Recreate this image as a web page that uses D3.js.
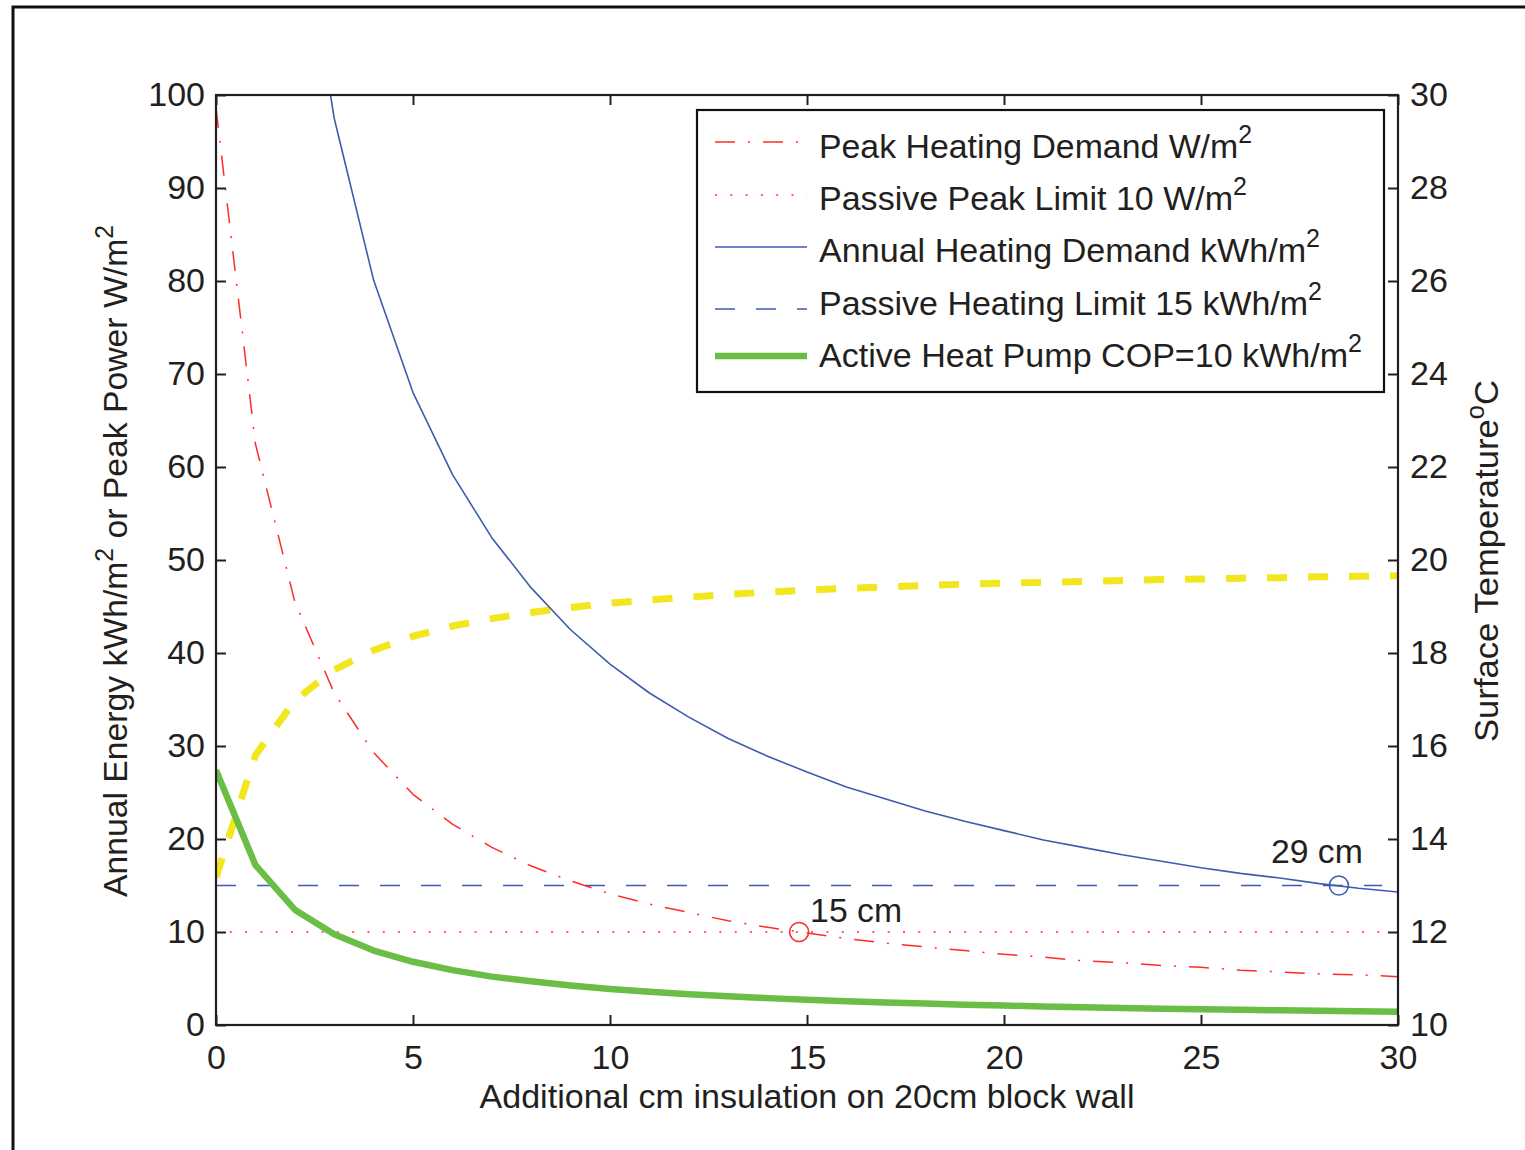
<!DOCTYPE html>
<html>
<head>
<meta charset="utf-8">
<script src="https://cdn.jsdelivr.net/npm/d3@7"></script>
<style>
  html, body { margin: 0; padding: 0; background: #fff; }
  svg text { font-family: "Liberation Sans", Arial, Helvetica, sans-serif; fill: #231f20; }
</style>
</head>
<body>
<svg id="chart" width="1525" height="1150"></svg>
<script>
// ---------------- data ----------------
const insulationCm = d3.range(0, 31); // 0..30 cm
const annualHeating = [277, 171.5, 124.2, 97.5, 80.1, 68.0, 59.2, 52.4, 47.0, 42.5,
  38.8, 35.7, 33.1, 30.8, 28.9, 27.2, 25.6, 24.3, 23.0, 21.9,
  20.9, 19.9, 19.1, 18.3, 17.6, 16.9, 16.3, 15.8, 15.2, 14.7, 14.3];
const peakHeating = [98.6, 62.5, 45.5, 35.7, 29.3, 24.8, 21.6, 19.1, 17.1, 15.5,
  14.1, 13.0, 12.1, 11.2, 10.5, 9.9, 9.3, 8.8, 8.4, 8.0,
  7.6, 7.3, 6.9, 6.7, 6.4, 6.2, 5.9, 5.7, 5.5, 5.4, 5.2];
const heatPump = [27.4, 17.2, 12.4, 9.75, 8.0, 6.8, 5.9, 5.2, 4.7, 4.25,
  3.88, 3.57, 3.31, 3.08, 2.89, 2.72, 2.56, 2.43, 2.30, 2.19,
  2.09, 1.99, 1.91, 1.83, 1.76, 1.69, 1.63, 1.58, 1.52, 1.47, 1.43];
const surfaceTemp = [13.18, 15.8, 16.98, 17.64, 18.06, 18.36, 18.58, 18.74, 18.87, 18.98,
  19.07, 19.14, 19.2, 19.26, 19.31, 19.35, 19.39, 19.42, 19.45, 19.48,
  19.5, 19.52, 19.54, 19.56, 19.58, 19.59, 19.61, 19.62, 19.64, 19.65, 19.66];
const passivePeakLimit = 10;      // W/m2
const passiveHeatingLimit = 15;   // kWh/m2
const limitRange = [0, 29.6];
const markers = [
  {x: 14.8, y: 10, label: "15 cm", color: "#ff2b2b"},
  {x: 28.5, y: 15, label: "29 cm", color: "#3d5cb0"}
];
const xTicks = [0, 5, 10, 15, 20, 25, 30];
const yLeftTicks = [0, 10, 20, 30, 40, 50, 60, 70, 80, 90, 100];
const yRightTicks = [10, 12, 14, 16, 18, 20, 22, 24, 26, 28, 30];
const legendItems = [
  {label: "Peak Heating Demand W/m", key: "peak"},
  {label: "Passive Peak Limit 10 W/m", key: "peakLimit"},
  {label: "Annual Heating Demand kWh/m", key: "annual"},
  {label: "Passive Heating Limit 15 kWh/m", key: "annualLimit"},
  {label: "Active Heat Pump COP=10 kWh/m", key: "pump"}
];

// ---------------- styles ----------------
const styles = {
  peak:        {stroke: "#ff2b2b", width: 1.5, dash: "20,13,2,13"},
  peakLimit:   {stroke: "#ff2b2b", width: 1.6, dash: "2,13.3"},
  annual:      {stroke: "#3d5cb0", width: 1.6, dash: null},
  annualLimit: {stroke: "#3d5cb0", width: 1.6, dash: "20,21"},
  pump:        {stroke: "#6abd45", width: 6.5, dash: null},
  temp:        {stroke: "#f2e71e", width: 7, dash: "20,21"}
};

// ---------------- layout ----------------
const svg = d3.select("#chart");
const L = 216, R = 1398, T = 95, B = 1025;
const x = d3.scaleLinear().domain([0, 30]).range([L, R]);
const yL = d3.scaleLinear().domain([0, 100]).range([B, T]);
const yR = d3.scaleLinear().domain([10, 30]).range([B, T]);

// figure frame
svg.append("path").attr("d", `M13,1150 L13,7 L1525,7`)
  .attr("fill", "none").attr("stroke", "#111").attr("stroke-width", 3);

svg.append("clipPath").attr("id", "plotclip")
  .append("rect").attr("x", L).attr("y", T).attr("width", R - L).attr("height", B - T);

const plot = svg.append("g").attr("clip-path", "url(#plotclip)");

function drawLine(data, yScale, st) {
  const gen = d3.line().x(d => x(d[0])).y(d => yScale(d[1]));
  const p = plot.append("path").datum(data).attr("d", gen)
    .attr("fill", "none").attr("stroke", st.stroke).attr("stroke-width", st.width)
    .attr("stroke-linejoin", "round");
  if (st.dash) p.attr("stroke-dasharray", st.dash);
  return p;
}

// limit lines
drawLine(limitRange.map(v => [v, passiveHeatingLimit]), yL, styles.annualLimit);
drawLine([[0.35, passivePeakLimit], [limitRange[1], passivePeakLimit]], yL, styles.peakLimit);
// curves
drawLine(insulationCm.map((c, i) => [c, surfaceTemp[i]]), yR, styles.temp);
drawLine(insulationCm.map((c, i) => [c, peakHeating[i]]), yL, styles.peak);
drawLine(insulationCm.map((c, i) => [c, annualHeating[i]]), yL, styles.annual);
drawLine(insulationCm.map((c, i) => [c, heatPump[i]]), yL, styles.pump);

// markers
markers.forEach(m => {
  svg.append("circle").attr("cx", x(m.x)).attr("cy", yL(m.y)).attr("r", 9.5)
    .attr("fill", "none").attr("stroke", m.color).attr("stroke-width", 1.6);
});
svg.append("text").attr("x", x(markers[0].x) + 11).attr("y", yL(markers[0].y) - 10)
  .attr("font-size", 33).attr("textLength", 92).attr("lengthAdjust", "spacingAndGlyphs")
  .text(markers[0].label);
svg.append("text").attr("x", x(markers[1].x) - 68).attr("y", yL(markers[1].y) - 23)
  .attr("font-size", 33).attr("textLength", 92).attr("lengthAdjust", "spacingAndGlyphs")
  .text(markers[1].label);

// axes (matlab-like inward ticks)
const axCol = "#231f20";
const tickLen = 10;
const axG = svg.append("g");
axG.append("rect").attr("x", L).attr("y", T).attr("width", R - L).attr("height", B - T)
  .attr("fill", "none").attr("stroke", axCol).attr("stroke-width", 2.2);

const xAxisB = d3.axisBottom(x).tickValues(xTicks).tickSizeInner(-tickLen).tickSizeOuter(0).tickPadding(20);
const xAxisT = d3.axisTop(x).tickValues(xTicks).tickSizeInner(-tickLen).tickSizeOuter(0).tickFormat("");
const yAxisL = d3.axisLeft(yL).tickValues(yLeftTicks).tickSizeInner(-tickLen).tickSizeOuter(0).tickPadding(22);
const yAxisR = d3.axisRight(yR).tickValues(yRightTicks).tickSizeInner(-tickLen).tickSizeOuter(0).tickPadding(22);

function styleAxis(g) {
  g.select(".domain").remove();
  g.selectAll(".tick line").attr("stroke", axCol).attr("stroke-width", 2);
  g.selectAll(".tick text").attr("font-size", 34).attr("fill", axCol)
    .style("font-family", '"Liberation Sans", Arial, sans-serif');
}
axG.append("g").attr("transform", `translate(0,${B})`).call(xAxisB).call(styleAxis)
  .selectAll(".tick text").attr("dy", "0.71em").attr("y", 20);
axG.append("g").attr("transform", `translate(0,${T})`).call(xAxisT).call(styleAxis);
axG.append("g").attr("transform", `translate(${L},0)`).call(yAxisL).call(styleAxis)
  .selectAll(".tick text").attr("x", -11);
axG.append("g").attr("transform", `translate(${R},0)`).call(yAxisR).call(styleAxis)
  .selectAll(".tick text").attr("x", 12);

// axis titles
svg.append("text").attr("x", (L + R) / 2).attr("y", 1108).attr("text-anchor", "middle")
  .attr("font-size", 33).attr("textLength", 655).attr("lengthAdjust", "spacingAndGlyphs")
  .text("Additional cm insulation on 20cm block wall");

const yt = svg.append("text").attr("transform", `translate(127,561) rotate(-90)`)
  .attr("text-anchor", "middle").attr("font-size", 34)
  .attr("textLength", 672).attr("lengthAdjust", "spacingAndGlyphs");
yt.append("tspan").text("Annual Energy kWh/m");
yt.append("tspan").attr("dy", -14).attr("font-size", 25).text("2");
yt.append("tspan").attr("dy", 14).text(" or Peak Power W/m");
yt.append("tspan").attr("dy", -14).attr("font-size", 25).text("2");

const rt = svg.append("text").attr("transform", `translate(1498,561) rotate(-90)`)
  .attr("text-anchor", "middle").attr("font-size", 34)
  .attr("textLength", 362).attr("lengthAdjust", "spacingAndGlyphs");
rt.append("tspan").text("Surface Temperature");
rt.append("tspan").attr("dy", -14).attr("font-size", 25).text("o");
rt.append("tspan").attr("dy", 14).text("C");

// legend
const lg = svg.append("g");
lg.append("rect").attr("x", 697).attr("y", 110).attr("width", 687).attr("height", 282)
  .attr("fill", "#fff").attr("stroke", "#111").attr("stroke-width", 2.2);
const lineYs = [142, 195, 247, 309, 356];
const textYs = [158, 210, 262, 315, 367];
const textWs = [433, 428, 501, 503, 543];
legendItems.forEach((it, i) => {
  const st = styles[it.key];
  const ln = lg.append("line").attr("x1", 715).attr("x2", 807)
    .attr("y1", lineYs[i]).attr("y2", lineYs[i])
    .attr("stroke", st.stroke).attr("stroke-width", st.width);
  if (st.dash) ln.attr("stroke-dasharray", st.dash);
  const t = lg.append("text").attr("x", 819).attr("y", textYs[i]).attr("font-size", 34)
    .attr("textLength", textWs[i]).attr("lengthAdjust", "spacingAndGlyphs");
  t.append("tspan").text(it.label);
  t.append("tspan").attr("dy", -15).attr("font-size", 25).text("2");
});
</script>
</body>
</html>
